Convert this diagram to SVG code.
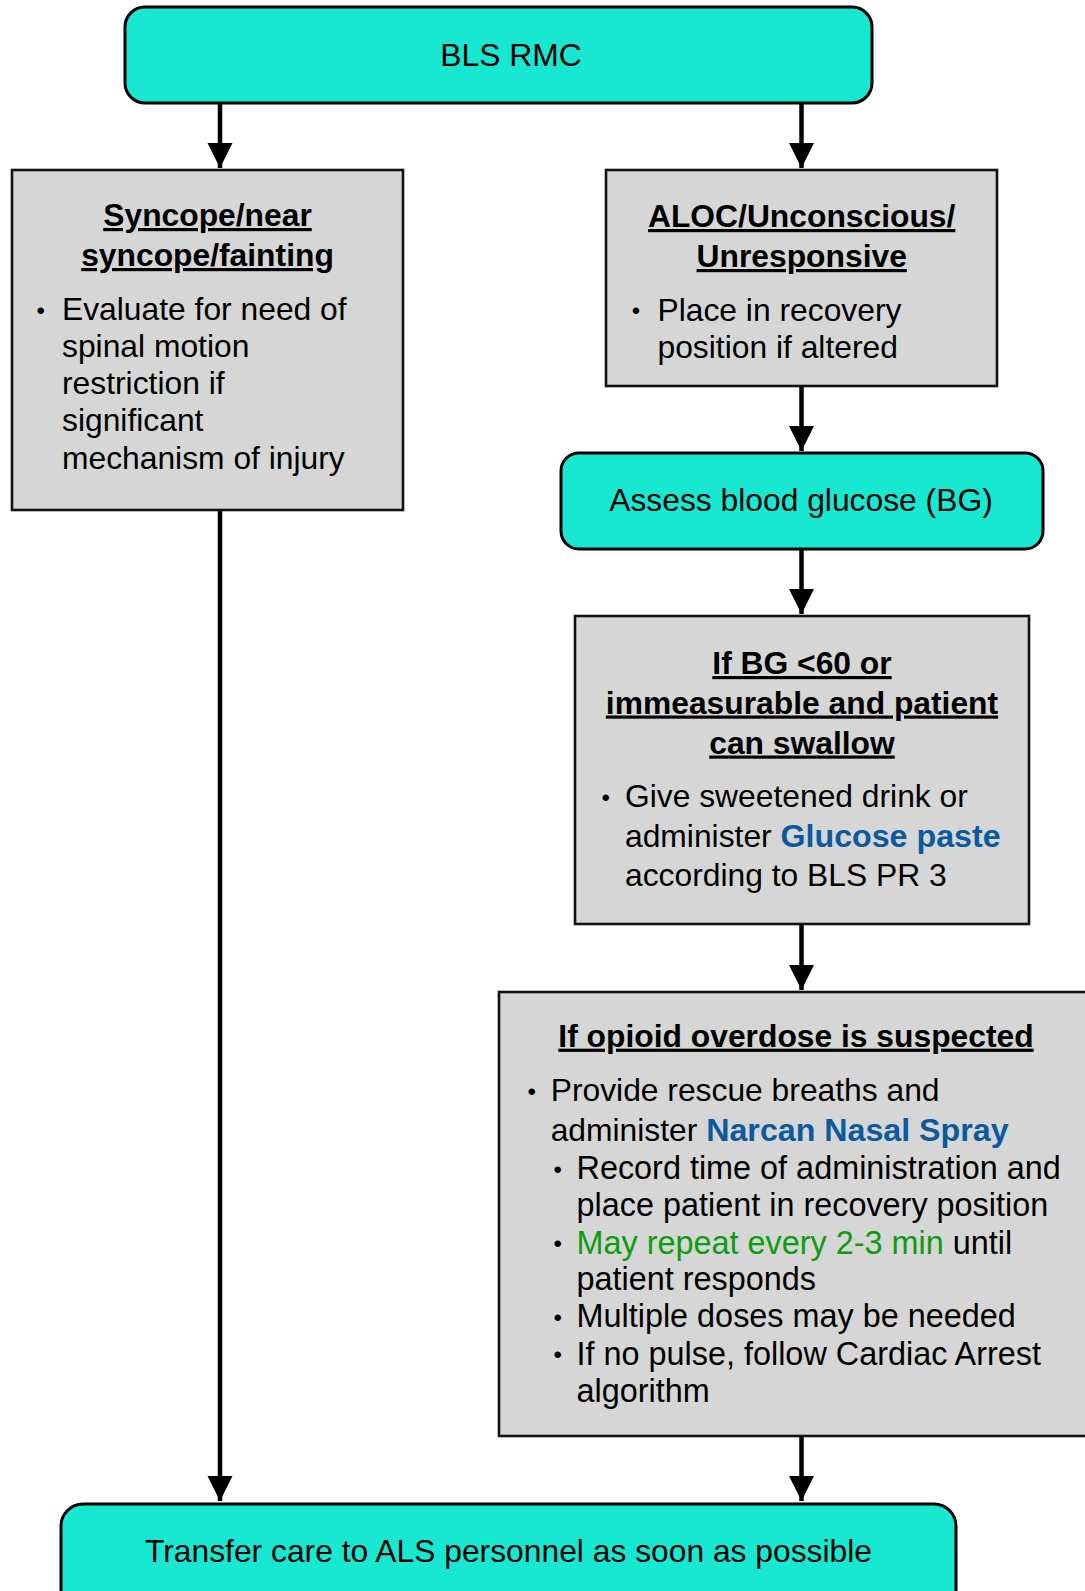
<svg xmlns="http://www.w3.org/2000/svg" width="1085" height="1591" viewBox="0 0 1085 1591">
  <style>
    text { font-family: "Liberation Sans", Arial, Helvetica, sans-serif; font-size: 31.8px; fill: #000; }
    .title { font-weight: bold; text-anchor: middle; text-decoration: underline; }
    .mid { text-anchor: middle; }
    .bul { font-size: 24px; text-anchor: middle; }
    .sub { font-size: 32.4px; }
    .drug { fill: #0B5A9E; font-weight: bold; font-size: 32.2px; }
    .term { stroke: #000; stroke-width: 3; fill: #18E8D2; }
    .step { stroke: #111; stroke-width: 2.6; fill: #D6D6D6; }
    .link { stroke: #000; stroke-width: 4.5; fill: none; marker-end: url(#head); }
    .rep { fill: #0E9C0E; }
  </style>
  <defs>
    <marker id="head" markerUnits="userSpaceOnUse" markerWidth="26" markerHeight="26" viewBox="0 0 26 26" refX="25" refY="13" orient="auto">
      <path d="M0,0.5 L25,13 L0,25.5 Z" fill="#000"/>
    </marker>
  </defs>

  <rect width="1085" height="1591" fill="#fff"/>

  <!-- connectors -->
  <g id="connectors">
    <line class="link" x1="220" y1="103" x2="220" y2="168"/>
    <line class="link" x1="801.5" y1="103" x2="801.5" y2="168"/>
    <line class="link" x1="801.5" y1="386" x2="801.5" y2="451"/>
    <line class="link" x1="801.5" y1="549" x2="801.5" y2="614"/>
    <line class="link" x1="801.5" y1="924" x2="801.5" y2="990"/>
    <line class="link" x1="801.5" y1="1436" x2="801.5" y2="1501"/>
    <line class="link" x1="220" y1="510" x2="220" y2="1501"/>
  </g>

  <!-- start -->
  <g id="start">
    <rect class="term" x="125" y="7" width="747" height="96" rx="20"/>
    <text class="mid" x="511" y="66">BLS RMC</text>
  </g>

  <!-- syncope branch -->
  <g id="syncope">
    <rect class="step" x="12" y="170" width="391" height="340"/>
    <text class="title" x="207.5" y="226">Syncope/near</text>
    <text class="title" x="207.5" y="266">syncope/fainting</text>
    <text class="bul" x="40.7" y="318.5">•</text>
    <text x="62" y="320">Evaluate for need of</text>
    <text x="62" y="357">spinal motion</text>
    <text x="62" y="394">restriction if</text>
    <text x="62" y="431">significant</text>
    <text x="62" y="468.5">mechanism of injury</text>
  </g>

  <!-- altered level of consciousness branch -->
  <g id="aloc">
    <rect class="step" x="606" y="170" width="391" height="216"/>
    <text class="title" x="801.7" y="227">ALOC/Unconscious/</text>
    <text class="title" x="801.7" y="267">Unresponsive</text>
    <text class="bul" x="636" y="319">•</text>
    <text x="657.5" y="320.5">Place in recovery</text>
    <text x="657.5" y="358">position if altered</text>
  </g>

  <!-- glucose check -->
  <g id="assess-bg">
    <rect class="term" x="561" y="453" width="482" height="96" rx="18"/>
    <text class="mid" x="801" y="511">Assess blood glucose (BG)</text>
  </g>

  <!-- low glucose -->
  <g id="low-bg">
    <rect class="step" x="575" y="616" width="454" height="308"/>
    <text class="title" x="802" y="674">If BG &lt;60 or</text>
    <text class="title" x="802" y="713.5">immeasurable and patient</text>
    <text class="title" x="802" y="753.5">can swallow</text>
    <text class="bul" x="605.7" y="805.5">•</text>
    <text x="625" y="806.5">Give sweetened drink or</text>
    <text x="625" y="846.5">administer <tspan class="drug">Glucose paste</tspan></text>
    <text x="625" y="885.5">according to BLS PR 3</text>
  </g>

  <!-- opioid overdose -->
  <g id="opioid">
    <rect class="step" x="499" y="992" width="600" height="444"/>
    <text class="title" x="796" y="1046.7">If opioid overdose is suspected</text>
    <text class="bul" x="531.7" y="1099.5">•</text>
    <text x="550.7" y="1101">Provide rescue breaths and</text>
    <text x="550.7" y="1141">administer <tspan class="drug">Narcan Nasal Spray</tspan></text>
    <text class="bul" x="557.6" y="1177.5">•</text>
    <text class="sub" x="576.5" y="1179">Record time of administration and</text>
    <text class="sub" x="576.5" y="1216">place patient in recovery position</text>
    <text class="bul" x="557.6" y="1252">•</text>
    <text class="sub" x="576.5" y="1253.5"><tspan class="rep">May repeat every 2-3 min</tspan> until</text>
    <text class="sub" x="576.5" y="1290">patient responds</text>
    <text class="bul" x="557.6" y="1325.5">•</text>
    <text class="sub" x="576.5" y="1327">Multiple doses may be needed</text>
    <text class="bul" x="557.6" y="1363">•</text>
    <text class="sub" x="576.5" y="1364.5">If no pulse, follow Cardiac Arrest</text>
    <text class="sub" x="576.5" y="1402">algorithm</text>
  </g>

  <!-- hand-off -->
  <g id="transfer">
    <rect class="term" x="61" y="1504" width="895" height="120" rx="22"/>
    <text class="mid" x="508.5" y="1562">Transfer care to ALS personnel as soon as possible</text>
  </g>
</svg>
